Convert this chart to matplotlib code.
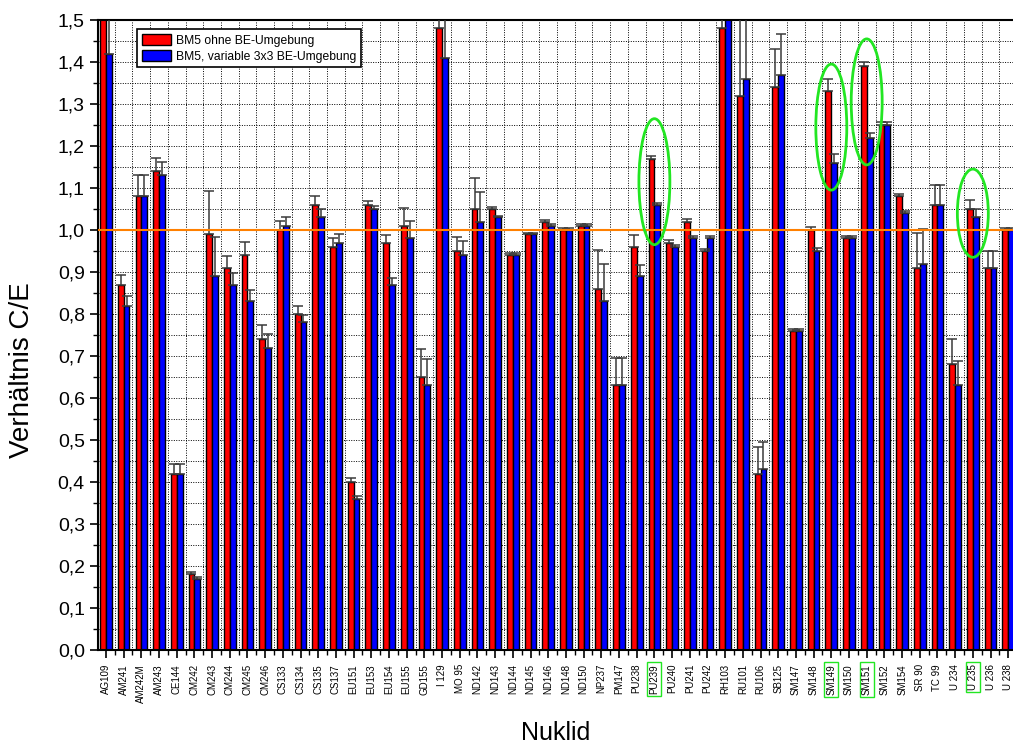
import numpy as np
import matplotlib
matplotlib.use('Agg')
import matplotlib.pyplot as plt
from matplotlib.patches import Ellipse
from matplotlib.ticker import MultipleLocator, FixedLocator, FuncFormatter

plt.rcParams['font.family'] = ['Liberation Sans', 'DejaVu Sans']

nuclides = ['AG109', 'AM241', 'AM242M', 'AM243', 'CE144', 'CM242', 'CM243', 'CM244',
            'CM245', 'CM246', 'CS133', 'CS134', 'CS135', 'CS137', 'EU151', 'EU153',
            'EU154', 'EU155', 'GD155', 'I 129', 'MO 95', 'ND142', 'ND143', 'ND144',
            'ND145', 'ND146', 'ND148', 'ND150', 'NP237', 'PM147', 'PU238', 'PU239',
            'PU240', 'PU241', 'PU242', 'RH103', 'RU101', 'RU106', 'SB125', 'SM147',
            'SM148', 'SM149', 'SM150', 'SM151', 'SM152', 'SM154', 'SR 90', 'TC 99',
            'U 234', 'U 235', 'U 236', 'U 238']

# C/E without fuel element neighbourhood
ce_ohne = [1.60, 0.87, 1.08, 1.14, 0.42, 0.18, 0.99, 0.91, 0.94, 0.74, 1.00, 0.80, 1.06,
           0.96, 0.40, 1.06, 0.97, 1.01, 0.65, 1.48, 0.95, 1.05, 1.05, 0.94, 0.99, 1.02,
           1.00, 1.01, 0.86, 0.63, 0.96, 1.17, 0.97, 1.02, 0.95, 1.48, 1.32, 0.42, 1.34,
           0.76, 1.00, 1.33, 0.98, 1.39, 1.25, 1.08, 0.91, 1.06, 0.68, 1.05, 0.91, 1.00]
err_ohne = [0.10, 0.022, 0.052, 0.032, 0.022, 0.006, 0.104, 0.027, 0.031, 0.034, 0.021,
            0.020, 0.022, 0.021, 0.010, 0.008, 0.018, 0.043, 0.066, 0.10, 0.034, 0.073,
            0.005, 0.005, 0.004, 0.005, 0.004, 0.005, 0.092, 0.066, 0.028, 0.006, 0.007,
            0.006, 0.005, 0.06, 0.30, 0.064, 0.092, 0.004, 0.008, 0.029, 0.005, 0.011,
            0.007, 0.006, 0.082, 0.048, 0.061, 0.021, 0.040, 0.004]

# C/E with variable 3x3 fuel element neighbourhood
ce_var = [1.42, 0.82, 1.08, 1.13, 0.42, 0.17, 0.89, 0.87, 0.83, 0.72, 1.01, 0.78, 1.03,
          0.97, 0.36, 1.05, 0.87, 0.98, 0.63, 1.41, 0.94, 1.02, 1.03, 0.94, 0.99, 1.01,
          1.00, 1.01, 0.83, 0.63, 0.89, 1.06, 0.96, 0.98, 0.98, 1.52, 1.36, 0.43, 1.37,
          0.76, 0.95, 1.16, 0.98, 1.22, 1.25, 1.04, 0.92, 1.06, 0.63, 1.03, 0.91, 1.00]
err_var = [0.12, 0.022, 0.050, 0.031, 0.022, 0.005, 0.093, 0.027, 0.028, 0.033, 0.021,
           0.018, 0.020, 0.020, 0.007, 0.006, 0.016, 0.041, 0.064, 0.15, 0.034, 0.070,
           0.004, 0.005, 0.004, 0.004, 0.004, 0.005, 0.090, 0.066, 0.026, 0.005, 0.004,
           0.005, 0.005, 0.05, 0.30, 0.066, 0.096, 0.004, 0.006, 0.022, 0.005, 0.010,
           0.007, 0.006, 0.082, 0.048, 0.058, 0.020, 0.040, 0.004]

highlight = ['PU239', 'SM149', 'SM151', 'U 235']
highlight_h = [0.30, 0.30, 0.30, 0.21]

x = np.arange(len(nuclides))
w = 0.33

fig = plt.figure(figsize=(10.13, 7.49), dpi=100)
ax = fig.add_axes([98 / 1013, 99 / 749, 915 / 1013, 630 / 749])

ax.bar(x - w / 2, ce_ohne, w, color='#ff0000', edgecolor='black', linewidth=1.0,
       label='BM5 ohne BE-Umgebung', zorder=2)
ax.bar(x + w / 2, ce_var, w, color='#0000ff', edgecolor='black', linewidth=1.0,
       label='BM5, variable 3x3 BE-Umgebung', zorder=2)

# upper error bars only
ax.errorbar(x - w / 2, ce_ohne, yerr=[np.zeros(len(x)), err_ohne], fmt='none',
            ecolor='#3a3a3a', elinewidth=1.1, capsize=3.5, capthick=1.1, zorder=3)
ax.errorbar(x + w / 2, ce_var, yerr=[np.zeros(len(x)), err_var], fmt='none',
            ecolor='#3a3a3a', elinewidth=1.1, capsize=3.5, capthick=1.1, zorder=3)

ax.axhline(1.0, color='#ff8000', linewidth=1.5, zorder=4)

for name, h in zip(highlight, highlight_h):
    i = nuclides.index(name)
    yc = (ce_ohne[i] + ce_var[i]) / 2
    ax.add_patch(Ellipse((i, yc), 1.75, h, fill=False, edgecolor='#22e622',
                         linewidth=2.0, zorder=5))

ax.set_xlim(-0.45, 51.27)
ax.set_ylim(0, 1.5)

ax.set_xticks(x)
ax.set_xticklabels(nuclides, rotation=90)
ax.xaxis.set_minor_locator(FixedLocator(x[:-1] + 0.5))
ax.yaxis.set_major_locator(MultipleLocator(0.1))
ax.yaxis.set_minor_locator(MultipleLocator(0.05))
ax.yaxis.set_major_formatter(FuncFormatter(lambda v, _: f'{v:.1f}'.replace('.', ',')))

ax.tick_params(axis='both', which='major', direction='out', length=6, width=1.2,
               labelsize=14, colors='black')
ax.tick_params(axis='x', which='major', labelsize=7, pad=4)
ax.tick_params(axis='both', which='minor', direction='out', length=3.5, width=1.0)

for lbl in ax.get_xticklabels():
    if lbl.get_text() in highlight:
        lbl.set_bbox(dict(facecolor='none', edgecolor='#22e622', linewidth=1.0, pad=1.5))

grid_style = dict(color='black', linestyle=(0, (1, 1.5)), linewidth=0.7)
ax.grid(True, axis='x', which='minor', **grid_style)
ax.grid(True, axis='y', which='both', **grid_style)
ax.set_axisbelow(True)

for side in ['left', 'bottom', 'top']:
    ax.spines[side].set_linewidth(1.5)
ax.spines['right'].set_visible(False)

fig.text(22 / 1013, 1 - 370 / 749, 'Verhältnis C/E', rotation=90, fontsize=20,
         ha='center', va='center')
fig.text(556 / 1013, 1 - 733 / 749, 'Nuklid', fontsize=18, ha='center', va='center')

leg = ax.legend(loc='upper left', bbox_to_anchor=(0.043, 0.985), fontsize=8.7,
                frameon=True, fancybox=False, framealpha=1, edgecolor='black',
                handlelength=2.4, handleheight=0.95, borderpad=0.4, labelspacing=0.3,
                handletextpad=0.4, borderaxespad=0)
leg.get_frame().set_linewidth(1.2)
leg.set_zorder(6)

fig.savefig('out.png', dpi=100)
